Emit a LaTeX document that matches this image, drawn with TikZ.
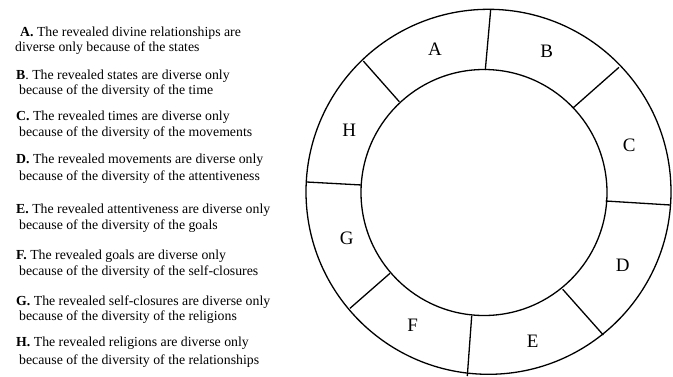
\documentclass[tikz,border=0pt]{standalone}
\usepackage{fontspec}
\setmainfont{Liberation Serif}
\begin{document}
\begin{tikzpicture}[x=1pt,y=-1pt,
  txt/.style={anchor=base west,inner sep=0pt,font=\fontsize{13.8}{15}\selectfont},
  seg/.style={font=\fontsize{19}{20}\selectfont,inner sep=0pt},
  ring/.style={line width=1.3pt}]
\useasboundingbox (0,0) rectangle (673,376);
% text
\node[txt] (a1) at (20,36) {\textbf{A.} The revealed divine relationships are};
\node[txt] (a2) at (15,51.7) {diverse only because of the states};
\node[txt] (b1) at (16,79) {\textbf{B}. The revealed states are diverse only};
\node[txt] (b2) at (19,94.5) {because of the diversity of the time};
\node[txt] (c1) at (16,120.7) {\textbf{C.} The revealed times are diverse only};
\node[txt] (c2) at (19,136.7) {because of the diversity of the movements};
\node[txt] (d1) at (16,163.3) {\textbf{D.} The revealed movements are diverse only};
\node[txt] (d2) at (19,180) {because of the diversity of the attentiveness};
\node[txt] (e1) at (16,213.3) {\textbf{E.} The revealed attentiveness are diverse only};
\node[txt] (e2) at (19,229.3) {because of the diversity of the goals};
\node[txt] (f1) at (16,259) {\textbf{F.} The revealed goals are diverse only};
\node[txt] (f2) at (19,275.7) {because of the diversity of the self-closures};
\node[txt] (g1) at (16,305) {\textbf{G.} The revealed self-closures are diverse only};
\node[txt] (g2) at (19,320.7) {because of the diversity of the religions};
\node[txt] (h1) at (16,346.7) {\textbf{H.} The revealed religions are diverse only};
\node[txt] (h2) at (19,364.3) {because of the diversity of the relationships};
% ring
\draw[ring] (488.5,191.8) circle (182.5);
\draw[ring] (484,192.5) circle (123);
\coordinate (abo) at (490.7,9.5);  \coordinate (abi) at (485.3,70);
\coordinate (bco) at (619,67.3);   \coordinate (bci) at (573.3,107.7);
\coordinate (cdo) at (670.5,205);  \coordinate (cdi) at (605.7,201);
\coordinate (deo) at (603.3,335);  \coordinate (dei) at (562.7,289.3);
\coordinate (efo) at (467.3,376);  \coordinate (efi) at (471.7,316);
\coordinate (fgo) at (350,308.3);  \coordinate (fgi) at (390,273.3);
\coordinate (gho) at (306.7,182);  \coordinate (ghi) at (361.7,185);
\coordinate (hao) at (363.3,61);   \coordinate (hai) at (399.3,101.7);
\foreach \p in {ab,bc,cd,de,ef,fg,gh,ha} \draw[ring] (\p o) -- (\p i);
% segment labels
\node[seg] (A) at (435,49) {A};
\node[seg] (B) at (546.7,51.7) {B};
\node[seg] (C) at (629.3,145) {C};
\node[seg] (D) at (622.7,265) {D};
\node[seg] (E) at (532.7,341.7) {E};
\node[seg] (F) at (412.7,325) {F};
\node[seg] (G) at (346.7,238.3) {G};
\node[seg] (H) at (349.3,130) {H};
\end{tikzpicture}
\end{document}
